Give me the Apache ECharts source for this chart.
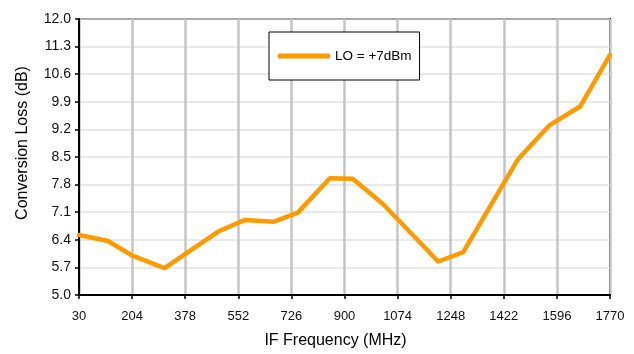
<!DOCTYPE html>
<html>
<head>
<meta charset="utf-8">
<script src="https://cdn.jsdelivr.net/npm/echarts@6/dist/echarts.min.js"></script>
<style>html,body{margin:0;padding:0;background:#fff}#c{width:634px;height:354px}</style>
</head>
<body>
<div id="c"></div>
<script>
const freqMHz = [30, 125, 207, 310, 486, 572, 669, 747, 852, 927, 1027, 1207, 1289, 1469, 1571, 1672, 1770];
const lossDb  = [6.52, 6.37, 5.99, 5.68, 6.61, 6.90, 6.86, 7.09, 7.96, 7.95, 7.30, 5.85, 6.09, 8.45, 9.30, 9.78, 11.09];
const seriesName = 'LO = +7dBm';
const xTicks = [30, 204, 378, 552, 726, 900, 1074, 1248, 1422, 1596, 1770];
const yTicks = [5.0, 5.7, 6.4, 7.1, 7.8, 8.5, 9.2, 9.9, 10.6, 11.3, 12.0];

const chart = echarts.init(document.getElementById('c'), null, {renderer: 'canvas'});
const font = 'Liberation Sans, Arial, sans-serif';
chart.setOption({
  animation: false,
  grid: {left: 79, right: 24, top: 19, bottom: 58, show: true, borderColor: '#000', borderWidth: 2, containLabel: false},
  legend: {
    left: 269, top: 32, orient: 'horizontal',
    padding: [17, 8, 17, 9],
    borderColor: '#000', borderWidth: 1, backgroundColor: '#fff',
    itemWidth: 52, itemHeight: 5, icon: 'roundRect',
    textStyle: {fontFamily: font, fontSize: 13.5, color: '#000'},
    data: [seriesName]
  },
  xAxis: {
    type: 'value', min: xTicks[0], max: xTicks[xTicks.length - 1], interval: xTicks[1] - xTicks[0],
    name: 'IF Frequency (MHz)', nameLocation: 'middle', nameGap: 38,
    nameTextStyle: {fontFamily: font, fontSize: 16, color: '#000', padding: [0, 18, 0, 0]},
    axisLine: {lineStyle: {color: '#000', width: 2}},
    axisTick: {show: true, length: 4, lineStyle: {color: '#000', width: 1.5}},
    axisLabel: {fontFamily: font, fontSize: 13, color: '#111', margin: 15, formatter: v => String(Math.round(v))},
    splitLine: {show: true, lineStyle: {color: '#c4c4c4', width: 2.5}}
  },
  yAxis: {
    type: 'value', min: yTicks[0], max: yTicks[yTicks.length - 1], interval: 0.7,
    name: 'Conversion Loss (dB)', nameLocation: 'middle', nameGap: 48,
    nameTextStyle: {fontFamily: font, fontSize: 16, color: '#000', padding: [0, 0, 0, 28]},
    axisLine: {lineStyle: {color: '#000', width: 2}},
    axisTick: {show: true, length: 4, lineStyle: {color: '#000', width: 1.5}},
    axisLabel: {fontFamily: font, fontSize: 14, color: '#111', margin: 8, formatter: v => v.toFixed(1)},
    splitLine: {show: true, lineStyle: {color: '#e2e2e2', width: 1.5}}
  },
  series: [{
    name: seriesName, type: 'line', showSymbol: false, symbol: 'none',
    data: freqMHz.map((f, i) => [f, lossDb[i]]),
    lineStyle: {color: '#FF9900', width: 4.5, cap: 'round', join: 'round'},
    itemStyle: {color: '#FF9900'}
  }]
});
</script>
</body>
</html>
